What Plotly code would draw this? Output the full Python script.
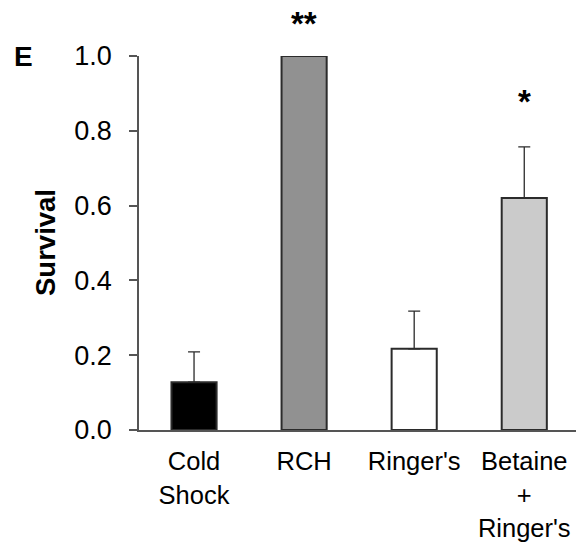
import plotly.graph_objects as go

categories = ["Cold<br>Shock", "RCH", "Ringer's", "Betaine<br>+<br>Ringer's"]
survival = [0.128, 1.0, 0.217, 0.62]
err_plus = [0.081, 0.0, 0.101, 0.137]
bar_colors = ["#000000", "#919191", "#ffffff", "#cbcbcb"]
signif = ["", "**", "", "*"]
sig_shift = [0, 33, 0, 45]
yticks = [0.0, 0.2, 0.4, 0.6, 0.8, 1.0]

W, H = 576, 546
L, R, T, B = 139, 0, 56, 116
FONT = "Liberation Sans, Arial"

fig = go.Figure()
fig.add_trace(go.Bar(
    x=categories, y=survival,
    marker=dict(color=bar_colors, line=dict(color="#2b2b2b", width=2)),
    width=0.41,
    error_y=dict(type="data", symmetric=False, array=err_plus,
                 arrayminus=[0]*4, color="#2b2b2b", thickness=1.3, width=6),
    cliponaxis=False,
))

for c, v, e, s, sh in zip(categories, survival, err_plus, signif, sig_shift):
    if s:
        fig.add_annotation(x=c, y=v + e, text="<b>%s</b>" % s, showarrow=False,
                           yanchor="middle", yshift=sh,
                           font=dict(size=33, color="#000", family=FONT))

fig.add_annotation(xref="paper", yref="paper", x=-(L - 45) / (W - L - R), y=0.5,
                   text="<b>Survival</b>", textangle=-90, showarrow=False,
                   xanchor="center", yanchor="middle",
                   font=dict(size=27.5, color="#000", family=FONT))
fig.add_annotation(xref="paper", yref="paper", x=-(L - 23) / (W - L - R), y=1.0,
                   text="<b>E</b>", showarrow=False, xanchor="center", yanchor="middle",
                   font=dict(size=28, color="#000", family=FONT))

fig.update_layout(
    width=W, height=H, margin=dict(l=L, r=R, t=T, b=B),
    paper_bgcolor="white", plot_bgcolor="white", showlegend=False,
    font=dict(family=FONT, size=27, color="#000"),
)
fig.update_xaxes(range=[-0.5, 3.47], showline=True, linecolor="#555", linewidth=1.5,
                 ticks="outside", ticklen=8, tickcolor="rgba(0,0,0,0)",
                 showgrid=False, zeroline=False, tickfont=dict(size=25.5),
                 automargin=False)
fig.update_yaxes(range=[0, 1.0], tickvals=yticks, ticktext=["%.1f" % t for t in yticks],
                 showline=True, linecolor="#555", linewidth=1.5, ticks="outside",
                 ticklen=8, tickcolor="#555", tickwidth=1.5, showgrid=False,
                 zeroline=False, ticklabelstandoff=12, tickfont=dict(size=27),
                 automargin=False)

fig.write_html("out.html")
